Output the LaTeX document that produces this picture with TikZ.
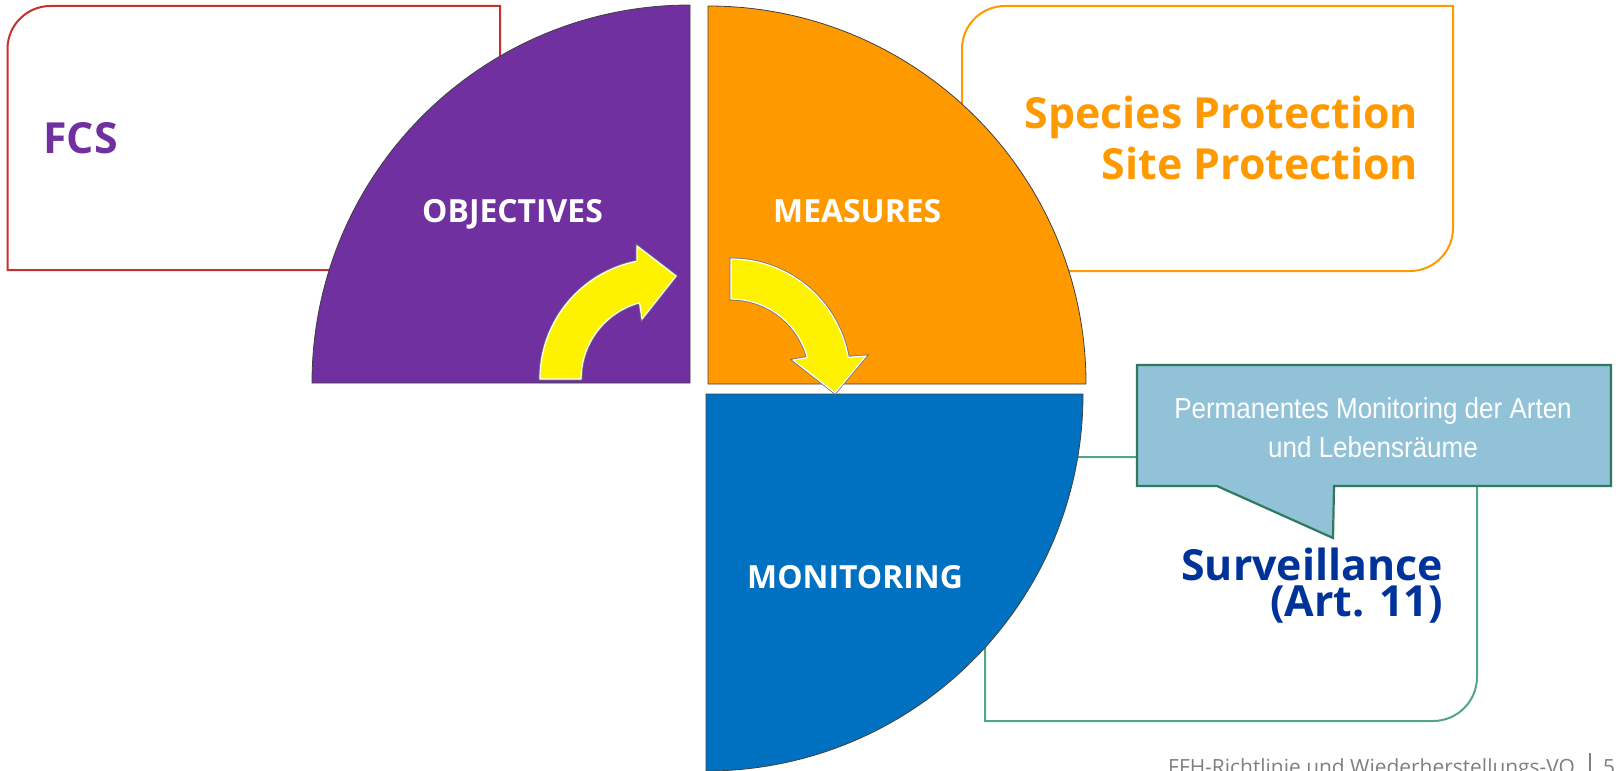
\documentclass[tikz,border=0pt]{standalone}
\usepackage{fontspec}
\setmainfont{Open Sans}
\newfontfamily\callfont[FakeStretch=0.9]{Liberation Sans}

\definecolor{fcsred}{HTML}{C9302C}
\definecolor{objpurple}{HTML}{7030A0}
\definecolor{measorange}{HTML}{FF9900}
\definecolor{monblue}{HTML}{0070C0}
\definecolor{boxgreen}{HTML}{52A587}
\definecolor{calloutblue}{HTML}{92C2D7}
\definecolor{calloutgreen}{HTML}{2F7A5E}
\definecolor{survblue}{HTML}{003399}
\definecolor{footgrey}{HTML}{7F7F7F}

\begin{document}
\begin{tikzpicture}[x=1bp,y=-1bp,
        boxline/.style={line width=2bp},
        quarter/.style={draw=black!75,line width=0.8bp},
        bentarrow/.style={fill=yellow,draw=white,line width=1.2bp,line join=round,
            preaction={draw=black!55,line width=2.8bp}},
        callout/.style={fill=calloutblue,draw=calloutgreen,line width=2.2bp},
        quartertext/.style={text=white,font=\bfseries\fontsize{32}{38}\selectfont,
            inner sep=0pt,anchor=base west},
        boxtext/.style={font=\bfseries\fontsize{43}{51}\selectfont,inner sep=0pt}]

    \clip (0,0) rectangle (1618,771);

    \draw[boxline,draw=fcsred] (500,270) -- (7.5,270) -- (7.5,49)
        arc[start angle=180,end angle=270,radius=43] -- (500,6) -- cycle;
    \draw[boxline,draw=measorange] (962,271) -- (962,49)
        arc[start angle=180,end angle=270,radius=43] -- (1453,6) -- (1453,228)
        arc[start angle=0,end angle=90,radius=43] -- cycle;
    \draw[boxline,draw=boxgreen] (985,457) -- (1477,457) -- (1477,677)
        arc[start angle=0,end angle=90,radius=44] -- (985,721) -- cycle;

    \coordinate (Pc) at (690,383);
    \coordinate (Oc) at (708,384);
    \coordinate (Mc) at (706,394);
    \draw[quarter,fill=objpurple] (Pc) -- ++(-378,0) arc[start angle=180,end angle=270,radius=378] -- cycle;
    \draw[quarter,fill=measorange] (Oc) -- ++(0,-378) arc[start angle=270,end angle=360,radius=378] -- cycle;
    \draw[quarter,fill=monblue] (Mc) -- ++(377,0) arc[start angle=0,end angle=90,radius=377] -- cycle;

    \draw[bentarrow] (540,379) arc[start angle=180,end angle=259,radius=120]
        -- (637,246) -- (676,276) -- (642,319) -- (639.6,302.7)
        arc[start angle=255,end angle=180,radius=79] -- cycle;
    \draw[bentarrow] (731,259) arc[start angle=270,end angle=350,radius=119]
        -- (866,356) -- (835,393) -- (793,360) -- (807.3,357.6)
        arc[start angle=345,end angle=270,radius=79] -- cycle;

    \draw[callout] (1137,365) -- (1611,365) -- (1611,486) -- (1334,486)
        -- (1333,538) -- (1217,486) -- (1137,486) -- cycle;

    \node[boxtext,text=objpurple,anchor=base west] (fcs) at (43,153) {FCS};
    \node[boxtext,text=measorange,align=right,anchor=base east] (protection) at (1418,179)
        {Species Protection\\Site Protection};
    \node[boxtext,text=survblue,align=right,anchor=base east,
        font=\bfseries\fontsize{43}{36}\selectfont] (surveillance) at (1443,616)
        {Surveillance\\(Art. 11)};

    \node[quartertext] (objectives) at (422,222) {OBJECTIVES};
    \node[quartertext] (measures) at (773,222) {MEASURES};
    \node[quartertext] (monitoring) at (747,588) {MONITORING};

    \node[text=white,font=\callfont\fontsize{29}{39}\selectfont,align=center,
        anchor=base] (permanent) at (1373,457)
        {Permanentes Monitoring der Arten\\und Lebensräume};

    \node[text=footgrey,font=\fontsize{21}{25}\selectfont,inner sep=0pt,
        anchor=base west] (footer) at (1168,774) {FFH-Richtlinie und Wiederherstellungs-VO};
    \draw[footgrey,line width=1.2bp] (1590,753) -- (1590,771);
    \node[text=footgrey,font=\fontsize{21}{25}\selectfont,inner sep=0pt,
        anchor=base west] (page) at (1603,774) {5};
\end{tikzpicture}
\end{document}
